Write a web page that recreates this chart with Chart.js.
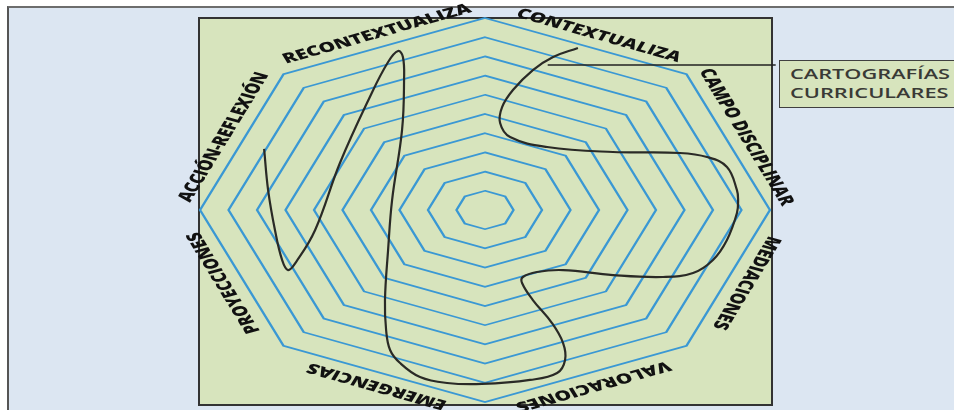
<!DOCTYPE html>
<html>
<head>
<meta charset="utf-8">
<script src="https://cdn.jsdelivr.net/npm/chart.js@4.4.1/dist/chart.umd.min.js"></script>
<style>
  html, body { margin: 0; padding: 0; background: #fff; }
  body { width: 954px; height: 410px; position: relative; overflow: hidden; font-family: "Open Sans", sans-serif; }
  #frame { position: absolute; left: 7px; top: 6px; width: 960px; height: 420px; background: #dce6f2;
           border-top: 2px solid #6d6d6d; border-left: 2px solid #555; }
  #board { position: absolute; left: 198px; top: 17px; width: 571px; height: 385px; background: #d7e4bd; border: 2px solid #333; }
  #callout { position: absolute; left: 779px; top: 60px; width: 190px; height: 46px; background: #d7e4bd;
             border: 1.5px solid #404040; }
  #callout span { position: absolute; left: 10px; font-size: 14.5px; font-weight: 600; color: #3a3a36;
                  transform: scaleX(1.5); transform-origin: left center; white-space: nowrap; line-height: 18px; }
  canvas { position: absolute; left: 0; top: 0; }
</style>
</head>
<body>
<div id="frame"></div>
<div id="board"></div>
<div id="callout"><span style="top:4px">CARTOGRAFÍAS</span><span style="top:23px">CURRICULARES</span></div>
<canvas id="rings" width="954" height="410"></canvas>
<canvas id="curve" width="954" height="410"></canvas>
<script>
// categories, one per edge of the octagon (clockwise from the top vertex)
var categories = ['CONTEXTUALIZA', 'CAMPO DISCIPLINAR', 'MEDIACIONES', 'VALORACIONES',
                  'EMERGENCIAS', 'PROYECCIONES', 'ACCIÓN-REFLEXIÓN', 'RECONTEXTUALIZA'];
var ringMax = 10;
var ringStep = 1;

// freehand path, in ring units (x and y from -10 to 10)
var curveX = [-7.75, -7.61, -7.37, -7.12, -6.91, -6.63, -5.96, -5.09, -4.04, -3.40, -3.05, -2.88, -2.84, -2.91,
              -3.26, -3.40, -3.51, -3.47, -3.33, -2.98, -2.28, -1.33, -0.11, 1.58, 2.53, 2.81, 2.74, 2.35,
              1.68, 1.30, 1.33, 1.82, 2.74, 4.49, 6.25, 7.30, 8.00, 8.49, 8.84, 8.88, 8.84, 8.49, 7.79,
              6.84, 4.49, 2.18, 0.88, 0.53, 0.60, 0.98, 1.68, 2.39, 3.26];
var curveY = [3.18, 1.04, -1.04, -2.60, -3.13, -2.71, -1.04, 2.45, 5.89, 7.71, 8.28, 7.97, 6.77, 4.17,
              0.52, -2.08, -4.69, -6.25, -7.29, -7.97, -8.70, -9.01, -9.06, -8.85, -8.49, -7.81, -6.93, -5.89,
              -4.69, -3.80, -3.49, -3.23, -3.13, -3.39, -3.49, -3.28, -2.60, -1.56, -0.16, 0.52, 1.04, 2.24, 2.76,
              2.97, 3.02, 3.28, 3.80, 4.53, 5.36, 6.25, 7.29, 7.97, 8.44];

// callout connector
var calloutX = [2.2, 10.2];
var calloutY = [7.55, 7.55];

var stretchX = 1.484;
var ringColor = '#3a98d4';

// octagon is drawn round, then widened around its centre
const stretchPlugin = {
    id: 'stretch',
    beforeDraw(chart) {
        const s = chart.scales.r;
        const ctx = chart.ctx;
        ctx.save();
        ctx.translate(s.xCenter, s.yCenter);
        ctx.scale(stretchX, 1);
        ctx.translate(-s.xCenter, -s.yCenter);
    },
    afterDraw(chart) {
        const s = chart.scales.r;
        const ctx = chart.ctx;
        const labels = chart.data.labels;
        ctx.font = '800 14px "Open Sans"';
        ctx.fillStyle = '#111';
        ctx.textAlign = 'center';
        ctx.textBaseline = 'middle';
        for (let i = 0; i < labels.length; i++) {
            const a = s.getPointPosition(i, s.drawingArea);
            const b = s.getPointPosition((i + 1) % labels.length, s.drawingArea);
            ctx.save();
            ctx.translate((a.x + b.x) / 2, (a.y + b.y) / 2);
            ctx.rotate(Math.atan2(b.y - a.y, b.x - a.x));
            ctx.fillText(labels[i], i === 0 ? 4 : 0, -13);
            ctx.restore();
        }
        ctx.restore();
    }
};

new Chart(document.getElementById('rings'), {
    type: 'radar',
    data: {
        labels: categories,
        datasets: []
    },
    options: {
        responsive: false,
        animation: false,
        layout: {
            padding: { left: 293, right: 277, top: 18, bottom: 8 }
        },
        scales: {
            r: {
                min: 0,
                max: ringMax,
                ticks: { display: false, stepSize: ringStep },
                angleLines: { display: false },
                pointLabels: { display: false },
                grid: { color: ringColor, lineWidth: 1.7 }
            }
        },
        plugins: {
            legend: { display: false },
            tooltip: { enabled: false }
        }
    },
    plugins: [stretchPlugin]
});

new Chart(document.getElementById('curve'), {
    type: 'scatter',
    data: {
        datasets: [{
            data: curveX.map((x, i) => ({ x: x, y: curveY[i] })),
            showLine: true,
            tension: 0.4,
            borderColor: '#2a2a26',
            borderWidth: 2.2,
            pointRadius: 0,
            clip: false
        }, {
            data: calloutX.map((x, i) => ({ x: x, y: calloutY[i] })),
            showLine: true,
            borderColor: '#222',
            backgroundColor: '#222',
            borderWidth: 1.5,
            pointRadius: [0, 3.5],
            pointStyle: 'triangle',
            rotation: 90,
            clip: false
        }]
    },
    options: {
        responsive: false,
        animation: false,
        layout: {
            padding: { left: 200, right: 184, top: 18, bottom: 8 }
        },
        scales: {
            x: { type: 'linear', min: -10, max: 10, display: false },
            y: { type: 'linear', min: -10, max: 10, display: false }
        },
        plugins: {
            legend: { display: false },
            tooltip: { enabled: false }
        }
    }
});
</script>
</body>
</html>
